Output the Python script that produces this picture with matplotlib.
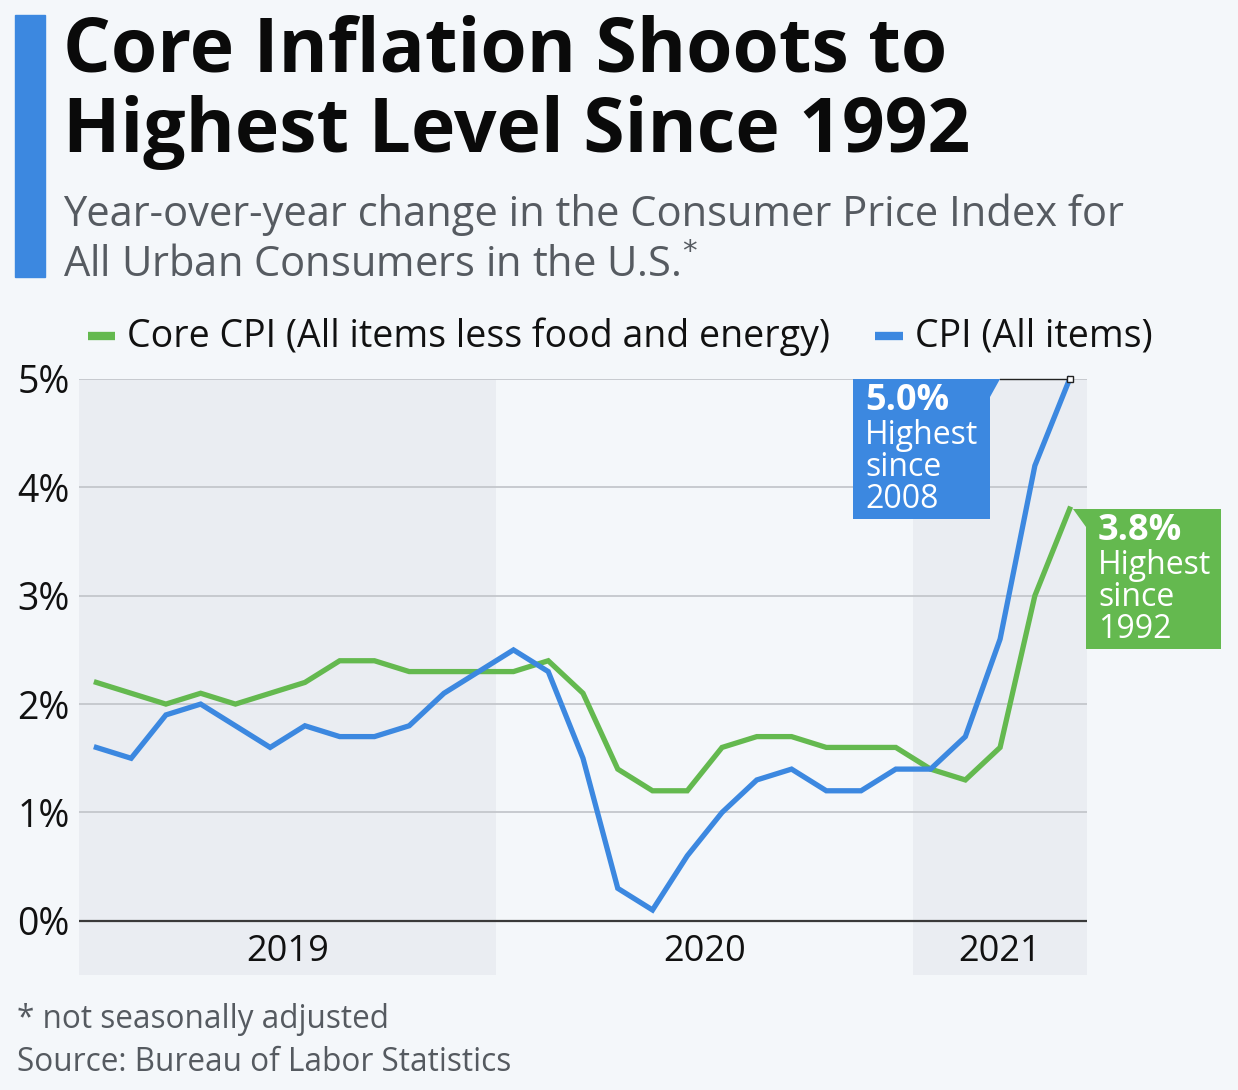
import matplotlib.pyplot as plt
from matplotlib.patches import Rectangle, Polygon
import numpy as np

# Monthly data, Jan 2019 - May 2021 (year-over-year % change)
months = ['2019-01', '2019-02', '2019-03', '2019-04', '2019-05', '2019-06',
          '2019-07', '2019-08', '2019-09', '2019-10', '2019-11', '2019-12',
          '2020-01', '2020-02', '2020-03', '2020-04', '2020-05', '2020-06',
          '2020-07', '2020-08', '2020-09', '2020-10', '2020-11', '2020-12',
          '2021-01', '2021-02', '2021-03', '2021-04', '2021-05']
core_cpi = [2.2, 2.1, 2.0, 2.1, 2.0, 2.1, 2.2, 2.4, 2.4, 2.3, 2.3, 2.3,
            2.3, 2.4, 2.1, 1.4, 1.2, 1.2, 1.6, 1.7, 1.7, 1.6, 1.6, 1.6,
            1.4, 1.3, 1.6, 3.0, 3.8]
cpi = [1.6, 1.5, 1.9, 2.0, 1.8, 1.6, 1.8, 1.7, 1.7, 1.8, 2.1, 2.3,
       2.5, 2.3, 1.5, 0.3, 0.1, 0.6, 1.0, 1.3, 1.4, 1.2, 1.2, 1.4,
       1.4, 1.7, 2.6, 4.2, 5.0]
years = ['2019', '2020', '2021']
y_ticks = [0, 1, 2, 3, 4, 5]

BG = '#f4f7fa'
BAND = '#eaedf2'
GREEN = '#64b94f'
BLUE = '#3c88e0'
FONT = 'Open Sans'

plt.rcParams['font.family'] = [FONT, 'DejaVu Sans']

fig = plt.figure(figsize=(12.38, 10.9), dpi=100)
fig.patch.set_facecolor(BG)

W, H = 1238, 1090
def fx(px):
    return px / W
def fy(py):
    return 1 - py / H

# header
fig.patches.append(Rectangle((fx(15), fy(277)), fx(30), (277 - 15) / H,
                             transform=fig.transFigure, color=BLUE, zorder=0))
fig.text(fx(63), fy(71), 'Core Inflation Shoots to', fontsize=54, fontweight='bold',
         color='#0a0a0a', va='baseline')
fig.text(fx(63), fy(152), 'Highest Level Since 1992', fontsize=54, fontweight='bold',
         color='#0a0a0a', va='baseline')
fig.text(fx(63), fy(226), 'Year-over-year change in the Consumer Price Index for',
         fontsize=30, color='#565b61', va='baseline')
fig.text(fx(63), fy(277), 'All Urban Consumers in the U.S.$^{*}$',
         fontsize=30, color='#565b61', va='baseline')

# legend
fig.lines.append(plt.Line2D([fx(88), fx(115)], [fy(336), fy(336)], transform=fig.transFigure,
                            color=GREEN, lw=6, solid_capstyle='butt'))
fig.text(fx(127), fy(337), 'Core CPI (All items less food and energy)', fontsize=27,
         color='#111111', va='center')
fig.lines.append(plt.Line2D([fx(875), fx(903)], [fy(336), fy(336)], transform=fig.transFigure,
                            color=BLUE, lw=6, solid_capstyle='butt'))
fig.text(fx(915), fy(337), 'CPI (All items)', fontsize=27, color='#111111', va='center')

# chart area
ax = fig.add_axes([fx(79), fy(975), (1087 - 79) / W, (975 - 379) / H])
ax.set_facecolor(BG)
x = np.arange(len(months))
ax.set_xlim(-0.5, len(months) - 0.5)
ax.set_ylim(-0.5, 5)

ax.axvspan(-0.5, 11.5, color=BAND, lw=0, zorder=0)
ax.axvspan(23.5, len(months) - 0.5, color=BAND, lw=0, zorder=0)

for t in y_ticks[1:]:
    ax.axhline(t, color='#c4c7cc', lw=1.3, zorder=1)
ax.axhline(0, color='#3a3a3a', lw=1.6, zorder=1)

ax.plot(x, core_cpi, color=GREEN, lw=3.8, zorder=3, solid_joinstyle='miter')
ax.plot(x, cpi, color=BLUE, lw=3.8, zorder=4, solid_joinstyle='miter', clip_on=False)

for s in ax.spines.values():
    s.set_visible(False)
ax.set_xticks([])
ax.set_yticks([])
for t in y_ticks:
    ax.text(-0.5 - 0.26, t, f'{t}%', fontsize=27, color='#111111', ha='right',
            va='center_baseline')

year_pos = [5.5, 17.5, 26]
for yp, yr in zip(year_pos, years):
    ax.text(yp, -0.29, yr, fontsize=26, color='#111111', ha='center', va='center')

# annotation: CPI
last = len(months) - 1
ax.plot([last - 2.0, last], [cpi[-1], cpi[-1]], color='#222222', lw=1, zorder=5, clip_on=False)
ax.plot([last], [cpi[-1]], marker='s', ms=5, mfc='white', mec='#222222', mew=1,
        zorder=6, clip_on=False)
bx0, bx1, by0, by1 = last - 6.24, last - 2.3, cpi[-1] - 1.29, cpi[-1]
ax.add_patch(Rectangle((bx0, by0), bx1 - bx0, by1 - by0, color=BLUE, lw=0, zorder=5,
                       clip_on=False))
ax.add_patch(Polygon([[bx1, by1 - 0.17], [bx1, by1], [bx1 + 0.3, by1]], closed=True,
                     color=BLUE, lw=0, zorder=5, clip_on=False))
ax.text(bx0 + 0.35, by1 - 0.2, f'{cpi[-1]:.1f}%', fontsize=26, fontweight='bold',
        color='white', va='center', zorder=7)
ax.text(bx0 + 0.35, by1 - 0.37, 'Highest\nsince\n2008', fontsize=23, color='white',
        va='top', linespacing=0.95, zorder=7)

# annotation: Core CPI
gx0, gx1, gy1 = last + 0.47, last + 4.35, core_cpi[-1]
gy0 = gy1 - 1.29
ax.add_patch(Rectangle((gx0, gy0), gx1 - gx0, gy1 - gy0, color=GREEN, lw=0, zorder=5,
                       clip_on=False))
ax.add_patch(Polygon([[gx0, gy1 - 0.17], [gx0, gy1], [last + 0.1, gy1]], closed=True,
                     color=GREEN, lw=0, zorder=5, clip_on=False))
ax.text(gx0 + 0.35, gy1 - 0.2, f'{core_cpi[-1]:.1f}%', fontsize=26, fontweight='bold',
        color='white', va='center', zorder=7)
ax.text(gx0 + 0.35, gy1 - 0.37, 'Highest\nsince\n1992', fontsize=23, color='white',
        va='top', linespacing=0.95, zorder=7)

# footer
fig.text(fx(17), fy(1028), '* not seasonally adjusted', fontsize=22.7, color='#555a60',
         va='baseline')
fig.text(fx(17), fy(1071), 'Source: Bureau of Labor Statistics', fontsize=22.7,
         color='#555a60', va='baseline')

fig.savefig('out.png', dpi=100, facecolor=BG)
